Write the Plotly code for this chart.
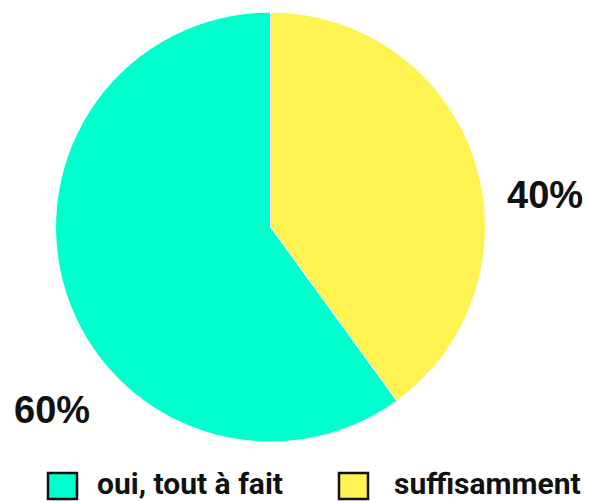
import plotly.graph_objects as go

categories = ["oui, tout à fait", "suffisamment"]
values = [60, 40]
colors = ["#00FFCC", "#FFF352"]

total = sum(values)
pct = [f"{round(v / total * 100)}%" for v in values]

# pie drawn with "suffisamment" first, clockwise from 12 o'clock
fig = go.Figure()
fig.add_trace(go.Pie(
    labels=categories[::-1],
    values=values[::-1],
    sort=False,
    direction="clockwise",
    rotation=0,
    marker=dict(colors=colors[::-1], line=dict(color="white", width=1)),
    textinfo="none",
    hoverinfo="label+percent",
    showlegend=False,
    domain=dict(x=[0.0941, 0.8229], y=[0.1195, 0.976]),
))

# percentage labels
label_pos = [(52, 410), (545, 195)]
for (px, py), t in zip(label_pos, pct):
    fig.add_annotation(
        x=px / 590, y=1 - py / 502, xref="paper", yref="paper",
        text=f"<b>{t}</b>", showarrow=False,
        font=dict(family="Liberation Sans, Arial, sans-serif", size=38, color="#111111"),
        xanchor="center", yanchor="middle",
    )

# custom legend
legend_boxes = [(48, 77), (339, 368)]
legend_text_x = [95, 392]
for (x0, x1), tx, cat, col in zip(legend_boxes, legend_text_x, categories, colors):
    fig.add_shape(
        type="rect", xref="paper", yref="paper",
        x0=x0 / 590, x1=x1 / 590, y0=1 - 499 / 502, y1=1 - 473 / 502,
        fillcolor=col, line=dict(color="#111111", width=2.5),
    )
    fig.add_annotation(
        x=tx / 590, y=1 - 483 / 502, xref="paper", yref="paper",
        text=f"<b>{cat}</b>", showarrow=False,
        font=dict(family="Roboto, sans-serif", size=30, color="#111111"),
        xanchor="left", yanchor="middle",
    )

fig.update_layout(
    width=590, height=502,
    margin=dict(l=0, r=0, t=0, b=0),
    paper_bgcolor="white",
    plot_bgcolor="white",
)

fig.write_html("out.html", config={"displayModeBar": False},
               post_script="document.body.style.margin='0';")
